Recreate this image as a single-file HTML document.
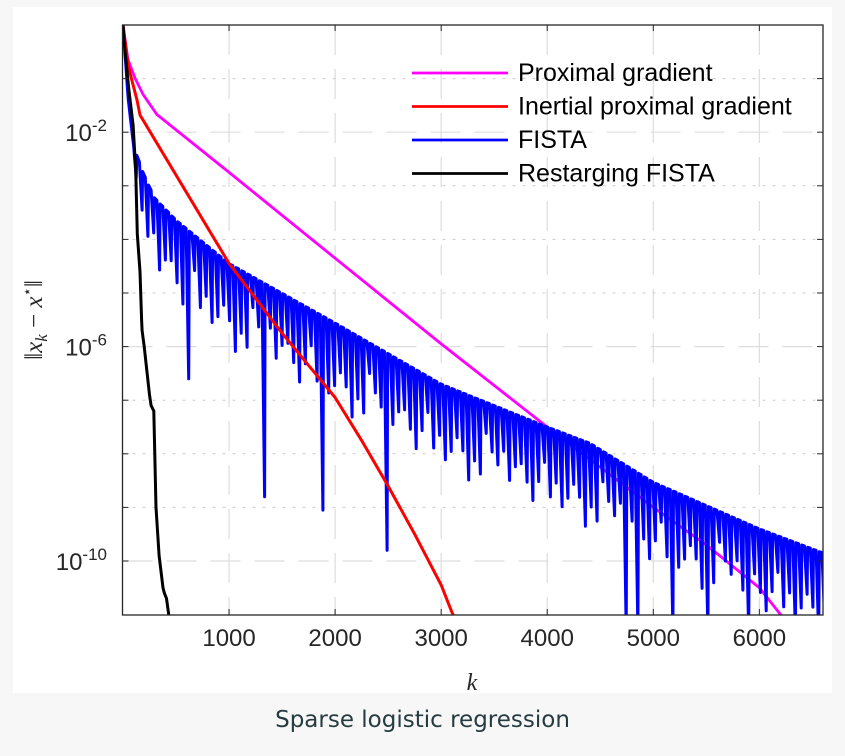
<!DOCTYPE html>
<html><head><meta charset="utf-8"><style>
html,body{margin:0;padding:0;background:#f7f7f7;width:845px;height:756px;overflow:hidden}
#card{position:absolute;left:13px;top:7px;width:819px;height:686px;background:#fff}
#cap{position:absolute;left:0;width:845px;top:707px;text-align:center;font-family:"DejaVu Sans","Liberation Sans",sans-serif;font-size:23px;color:#263c40}
svg{position:absolute;left:0;top:0}
</style></head><body>
<div id="card"></div>
<svg id="chart" width="845" height="756"></svg>
<div id="cap">Sparse logistic regression</div>
<script>
// data (log10 of error) vs iteration k
const xTicks=[1000,2000,3000,4000,5000,6000];
const yTickExp=[-2,-6,-10];
const pgK=[0,47,113,190,320,1000,2000,3000,4000,4400,5000,5500,6000,6200,6600];
const pgV=[0,-0.65,-0.99,-1.3,-1.67,-2.75,-4.35,-5.95,-7.5,-8.1,-9.0,-9.7,-10.5,-11,-11.6];
const ipgK=[0,47,132,160,1000,1500,1750,2000,2250,2500,2750,3000,3100,3200];
const ipgV=[0,-0.75,-1.4,-1.68,-4.45,-5.75,-6.35,-6.95,-7.75,-8.6,-9.5,-10.45,-10.95,-11.4];
const fEnvK=[0,50,100,200,300,500,1000,2000,3000,4000,4400,5000,6000,6600];
const fEnvV=[0,-1.4,-2.25,-2.8,-3.23,-3.64,-4.45,-5.56,-6.7,-7.5,-7.8,-8.53,-9.4,-9.85];
const fDipDepth=[0.6,0.9,1.1,0.8,1.3,1.0,0.9,1.2,1.5,1.1,0.7,1.3,1.0,1.4,1.2,0.9,1.1,1.6,1.2,1.4];
const fDeepK=[600,1290,1870,2440,4700,4840,5150,5500,5850,6300];
const fDeepV=[-6.6,-8.8,-9.05,-9.8,-11.3,-11.3,-11.3,-11.3,-11.3,-11.3];
const fPeriod=55;
const rfK=[0,20,55,95,120,135,160,175,180,200,250,265,290,311,340,377,390,410,445];
const rfV=[0,-0.5,-1.2,-1.87,-2.7,-3.9,-4.6,-5.5,-5.7,-6.0,-6.9,-7.1,-7.2,-9.0,-9.9,-10.5,-10.6,-10.7,-11.2];

const X0=123,XPX=0.10606,Y0=25,YPX=53.6;
const L=122.5,R=823,T=25,B=615;
const sx=k=>X0+k*XPX, sy=v=>Y0+(0-v)*YPX;
const NS='http://www.w3.org/2000/svg', svg=document.getElementById('chart');
function mk(t,a,p){const e=document.createElementNS(NS,t);for(const k in a)e.setAttribute(k,a[k]);(p||svg).appendChild(e);return e;}
const defs=mk('defs',{});const cp=mk('clipPath',{id:'c'},defs);mk('rect',{x:L,y:T,width:R-L,height:B-T},cp);
const gg=mk('g',{});
xTicks.forEach(t=>{mk('line',{x1:sx(t),x2:sx(t),y1:T,y2:B,stroke:'#ddd','stroke-width':1.2,'stroke-dasharray':'30 14'},gg);});
for(let e=-1;e>=-11;e--){const y=sy(e);if(y>B-1)continue;const maj=yTickExp.includes(e);
 mk('line',{x1:L,x2:R,y1:y,y2:y,stroke:maj?'#ddd':'#ccc','stroke-width':maj?1.2:1,'stroke-dasharray':maj?'30 14':'3 7'},gg);}
const pl=g=>'M'+g.map(p=>sx(p[0]).toFixed(1)+','+sy(p[1]).toFixed(1)).join('L');
const series=mk('g',{'clip-path':'url(#c)'});
let pts=[];function env(k){for(let i=1;i<fEnvK.length;i++)if(k<=fEnvK[i]){const t=(k-fEnvK[i-1])/(fEnvK[i]-fEnvK[i-1]);return fEnvV[i-1]+t*(fEnvV[i]-fEnvV[i-1]);}return fEnvV[fEnvV.length-1];}
for(let k=0;k<100;k+=10)pts.push([k,env(k)]);
let n=0;for(let k=100;k<=6600;k+=fPeriod,n++){const top=env(k);let d=top-fDipDepth[n%fDipDepth.length];
 fDeepK.forEach((dk,i)=>{if(Math.abs(dk-k)<fPeriod/2)d=fDeepV[i];});
 pts.push([k,top]);pts.push([k+fPeriod*0.45,d]);pts.push([k+fPeriod*0.55,env(k+fPeriod*0.6)]);}
const z=(a,b)=>a.map((k,i)=>[k,b[i]]);
const ps=mk('path',{d:pl(z(pgK,pgV)),fill:'none',stroke:'#ff00ff','stroke-width':2.8},series);
const fs=mk('path',{d:pl(pts),fill:'none',stroke:'#0000ff','stroke-width':3,'stroke-linejoin':'round'},series);
const is=mk('path',{d:pl(z(ipgK,ipgV)),fill:'none',stroke:'#ff0000','stroke-width':3,'stroke-linejoin':'round'},series);
const rs=mk('path',{d:pl(z(rfK,rfV)),fill:'none',stroke:'#000','stroke-width':3},series);
const ax=mk('g',{});
mk('rect',{x:L,y:T,width:R-L,height:B-T,fill:'none',stroke:'#262626','stroke-width':1.3},ax);
xTicks.forEach(t=>{const x=sx(t);mk('line',{x1:x,x2:x,y1:B,y2:B-6,stroke:'#262626'},ax);mk('line',{x1:x,x2:x,y1:T,y2:T+6,stroke:'#262626'},ax);
 const tx=mk('text',{x:x,y:B+31,'text-anchor':'middle','font-family':'Liberation Sans, sans-serif','font-size':24,fill:'#262626'},ax);tx.textContent=t;
 });
for(let e=-1;e>=-11;e--){const y=sy(e);if(y>B-1)continue;mk('line',{x1:L,x2:L+6,y1:y,y2:y,stroke:'#262626'},ax);mk('line',{x1:R,x2:R-6,y1:y,y2:y,stroke:'#262626'},ax);}
yTickExp.forEach(e=>{const y=sy(e);const t=mk('text',{x:107,y:y+9,'text-anchor':'end','font-family':'Liberation Sans, sans-serif','font-size':24,fill:'#262626'},ax);
 t.innerHTML='10<tspan dy="-10" font-size="17">'+e+'</tspan>';});
const xl=mk('text',{x:472,y:690,'text-anchor':'middle','font-family':'Liberation Serif, serif','font-style':'italic','font-size':24,fill:'#262626'},ax);xl.textContent='k';

const yl=mk('text',{x:0,y:0,transform:'translate(42,320) rotate(-90)','text-anchor':'middle','font-family':'Liberation Serif, serif','font-size':25,fill:'#262626'},ax);
yl.innerHTML='‖<tspan font-style="italic">x</tspan><tspan font-style="italic" font-size="17" dy="5">k</tspan><tspan dy="-5"> − </tspan><tspan font-style="italic">x</tspan><tspan font-size="15" dy="-10">⋆</tspan><tspan dy="10">‖</tspan>';

const names=['Proximal gradient','Inertial proximal gradient','FISTA','Restarging FISTA'];
const cols=['#ff00ff','#ff0000','#0000ff','#000'];
const lg=mk('g',{});
names.forEach((n,i)=>{const y=73+i*33.5;const e=mk('g',{},lg);
 mk('line',{x1:412,x2:508,y1:y,y2:y,stroke:cols[i],'stroke-width':2.8},e);
 const t=mk('text',{x:518,y:y+8,'font-family':'Liberation Sans, sans-serif','font-size':25,fill:'#000'},e);t.textContent=n;});
</script>
</body></html>
